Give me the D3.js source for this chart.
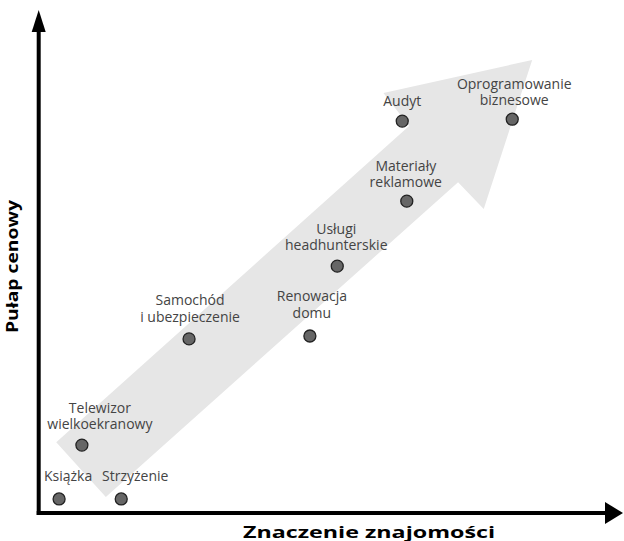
<!DOCTYPE html>
<html>
<head>
<meta charset="utf-8">
<script src="https://cdn.jsdelivr.net/npm/d3@7"></script>
<style>
  body { margin: 0; background: #fff; }
  .label { font-family: "Open Sans", sans-serif; font-size: 14px; fill: #444; }
  .axis-title { font-family: "Open Sans", sans-serif; font-size: 16.5px; font-weight: bold; fill: #000; }
</style>
</head>
<body>
<div id="chart"></div>
<script>
var svgWidth = 624;
var svgHeight = 541;

// items on the map (x = importance of connections, y = price ceiling)
var names = [
  ["Książka"],
  ["Strzyżenie"],
  ["Telewizor", "wielkoekranowy"],
  ["Samochód", "i ubezpieczenie"],
  ["Renowacja", "domu"],
  ["Usługi", "headhunterskie"],
  ["Materiały", "reklamowe"],
  ["Audyt"],
  ["Oprogramowanie", "biznesowe"]
];
var xValues = [3.7, 14.6, 7.7, 26.5, 47.7, 52.5, 64.7, 63.9, 83.2];
var yValues = [2.9, 2.9, 14.0, 35.9, 36.5, 50.9, 64.3, 80.8, 81.2];

// big background arrow outline, in the same units
var arrowX = [3.2, 65.1, 60.6, 86.7, 78.2, 73.7, 11.9];
var arrowY = [14.6, 79.8, 86.6, 93.4, 62.7, 68.2, 3.3];

var xTitle = "Znaczenie znajomości";
var yTitle = "Pułap cenowy";

// label placement relative to its dot (px): [dx, baseline of last line]
var labelOffsets = [[9, -18], [14, -18], [18, -16], [1, -17], [2, -18], [-1, -16], [-1, -14], [0, -15], [2, -14]];

var svg = d3
  .select("#chart")
  .append("svg")
  .attr("width", svgWidth)
  .attr("height", svgHeight);

var xScale = d3.scaleLinear().domain([0, 100]).range([38, 608]);
var yScale = d3.scaleLinear().domain([0, 100]).range([513, 28]);

// background arrow
var arrowPts = arrowX.map((d, i) => [xScale(d), yScale(arrowY[i])]);
svg
  .append("polygon")
  .attr("points", arrowPts.map(p => p.join(",")).join(" "))
  .attr("fill", "#e6e6e6");

// axes
var x0 = xScale(0) + 0.7;
var y0 = yScale(0);
svg
  .append("line")
  .attr("x1", x0)
  .attr("y1", y0 + 2)
  .attr("x2", x0)
  .attr("y2", 30)
  .attr("stroke", "#000")
  .attr("stroke-width", 4);
svg
  .append("polygon")
  .attr("points", `${x0},10 ${x0 - 7},32 ${x0 + 7},32`)
  .attr("fill", "#000");

svg
  .append("line")
  .attr("x1", x0 - 2)
  .attr("y1", y0)
  .attr("x2", 606)
  .attr("y2", y0)
  .attr("stroke", "#000")
  .attr("stroke-width", 4);
svg
  .append("polygon")
  .attr("points", `623,${y0} 605,${y0 - 11} 605,${y0 + 11}`)
  .attr("fill", "#000");

// axis titles
svg
  .append("text")
  .attr("class", "axis-title")
  .attr("text-anchor", "middle")
  .attr("x", 369)
  .attr("y", 537.5)
  .attr("textLength", 252)
  .attr("lengthAdjust", "spacingAndGlyphs")
  .text(xTitle);

svg
  .append("text")
  .attr("class", "axis-title")
  .attr("text-anchor", "middle")
  .attr("transform", "translate(18,266.5) rotate(-90)")
  .attr("textLength", 133)
  .attr("lengthAdjust", "spacingAndGlyphs")
  .text(yTitle);

// points
var items = names.map((n, i) => ({ name: n, x: xValues[i], y: yValues[i], off: labelOffsets[i] }));

svg
  .selectAll("circle.dot")
  .data(items)
  .enter()
  .append("circle")
  .attr("class", "dot")
  .attr("cx", d => xScale(d.x))
  .attr("cy", d => yScale(d.y))
  .attr("r", 6)
  .attr("fill", "#666")
  .attr("stroke", "#222")
  .attr("stroke-width", 1.3);

// labels above each point
var labels = svg
  .selectAll("text.label")
  .data(items)
  .enter()
  .append("text")
  .attr("class", "label")
  .attr("text-anchor", "middle");

labels.each(function(d) {
  var t = d3.select(this);
  var n = d.name.length;
  var cx = xScale(d.x);
  var cy = yScale(d.y);
  d.name.forEach(function(line, j) {
    t.append("tspan")
      .attr("x", cx + d.off[0])
      .attr("y", cy + d.off[1] - (n - 1 - j) * 16.5)
      .text(line);
  });
});
</script>
</body>
</html>
